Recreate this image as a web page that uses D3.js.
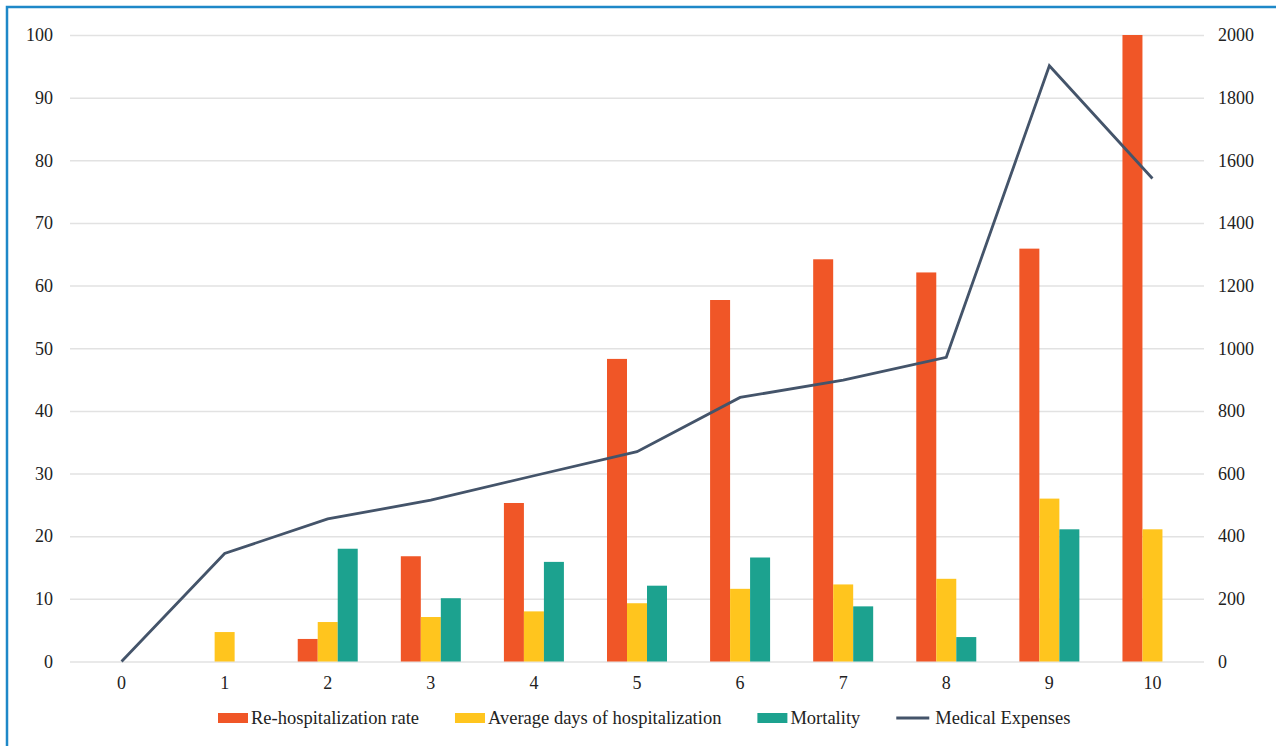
<!DOCTYPE html>
<html>
<head>
<meta charset="utf-8">
<script src="https://cdn.jsdelivr.net/npm/d3@7/dist/d3.min.js"></script>
<style>
  html, body { margin: 0; padding: 0; background: #ffffff; }
  svg { display: block; }
</style>
</head>
<body>
<svg id="chart" width="1276" height="746"></svg>
<script>
// Categories along the x axis
const categories = ["0", "1", "2", "3", "4", "5", "6", "7", "8", "9", "10"];

// Bar series (left axis), null where no bar is drawn
const rehospitalization = [null, null, 3.6, 16.8, 25.3, 48.3, 57.7, 64.2, 62.1, 65.9, 100];
const avgDays           = [null, 4.7, 6.3, 7.1, 8.0, 9.3, 11.6, 12.3, 13.2, 26.0, 21.1];
const mortality         = [null, null, 18.0, 10.1, 15.9, 12.1, 16.6, 8.8, 3.9, 21.1, null];

// Line series (right axis)
const medicalExpenses = [0, 345, 455, 515, 593, 670, 843, 898, 971, 1902, 1542];

// Tick labels
const leftTicks  = [0, 10, 20, 30, 40, 50, 60, 70, 80, 90, 100];
const rightTicks = [0, 200, 400, 600, 800, 1000, 1200, 1400, 1600, 1800, 2000];

const seriesNames = ["Re-hospitalization rate", "Average days of hospitalization", "Mortality"];
const seriesValues = [rehospitalization, avgDays, mortality];
const colors = ["#F05627", "#FFC51E", "#1CA28F"];
const lineColor = "#44546A";
const lineName = "Medical Expenses";

const FONT = "'Liberation Serif', Tinos, 'Times New Roman', 'DejaVu Serif', serif";

const svg = d3.select("#chart");
const W = 1276, H = 746;
const plot = { left: 70, right: 1204, top: 35, bottom: 661.5 };

svg.append("rect").attr("width", W).attr("height", H).attr("fill", "#ffffff");

// frame edges
svg.append("path")
  .attr("d", `M7,${H} L7,7 L${W},7`)
  .attr("fill", "none")
  .attr("stroke", "#1E88C8")
  .attr("stroke-width", 2.5);

const x = d3.scaleBand()
  .domain(categories)
  .range([plot.left, plot.right])
  .paddingInner(0.418)
  .paddingOuter(0.209);

const x1 = d3.scaleBand()
  .domain(seriesNames)
  .range([0, x.bandwidth()]);

const yL = d3.scaleLinear().domain([0, 100]).range([plot.bottom, plot.top]);
const yR = d3.scaleLinear().domain([0, 2000]).range([plot.bottom, plot.top]);

// gridlines
const grid = svg.append("g")
  .attr("transform", `translate(${plot.left},0)`)
  .call(d3.axisLeft(yL).tickValues(leftTicks).tickSize(-(plot.right - plot.left)).tickFormat(""));
grid.select(".domain").remove();
grid.selectAll("line").attr("stroke", "#E2E2E2").attr("stroke-width", 1.5);

function styleAxis(g) {
  g.attr("font-family", FONT).attr("font-size", 18);
  g.select(".domain").remove();
  g.selectAll("text").attr("fill", "#222");
}

// left axis labels
svg.append("g")
  .attr("transform", `translate(${plot.left},0)`)
  .call(d3.axisLeft(yL).tickValues(leftTicks).tickFormat(d3.format("d")).tickSize(0).tickPadding(17))
  .call(styleAxis);

// right axis labels
svg.append("g")
  .attr("transform", `translate(${plot.right},0)`)
  .call(d3.axisRight(yR).tickValues(rightTicks).tickFormat(d3.format("d")).tickSize(0).tickPadding(14))
  .call(styleAxis);

// bottom axis labels
svg.append("g")
  .attr("transform", `translate(0,${plot.bottom})`)
  .call(d3.axisBottom(x).tickSize(0).tickPadding(15))
  .call(styleAxis);

// bars
const barData = [];
categories.forEach((c, i) => {
  seriesNames.forEach((s, j) => {
    const v = seriesValues[j][i];
    if (v !== null) barData.push({ c, s, v, color: colors[j] });
  });
});

svg.append("g").selectAll("rect")
  .data(barData)
  .join("rect")
  .attr("x", d => x(d.c) + x1(d.s))
  .attr("width", x1.bandwidth())
  .attr("y", d => yL(d.v))
  .attr("height", d => yL(0) - yL(d.v))
  .attr("fill", d => d.color);

// line
const line = d3.line()
  .x((d, i) => x(categories[i]) + x.bandwidth() / 2)
  .y(d => yR(d));

svg.append("path")
  .datum(medicalExpenses)
  .attr("d", line)
  .attr("fill", "none")
  .attr("stroke", lineColor)
  .attr("stroke-width", 2.8)
  .attr("stroke-linejoin", "miter");

// legend
const legend = svg.append("g")
  .attr("transform", "translate(0,718)")
  .attr("font-family", FONT)
  .attr("font-size", 18.5);
let lx = 218;
const items = seriesNames.map((s, j) => ({ name: s, color: colors[j], type: "bar" }))
  .concat([{ name: lineName, color: lineColor, type: "line" }]);
items.forEach(it => {
  const g = legend.append("g").attr("transform", `translate(${lx},0)`);
  if (it.type === "bar") {
    g.append("rect").attr("x", 0).attr("y", -5).attr("width", 30).attr("height", 10).attr("fill", it.color);
  } else {
    g.append("line").attr("x1", 0).attr("x2", 33).attr("y1", 0).attr("y2", 0)
      .attr("stroke", it.color).attr("stroke-width", 2.8);
  }
  const tx = it.type === "bar" ? 33 : 39;
  const t = g.append("text")
    .attr("x", tx)
    .attr("y", 5.5)
    .attr("fill", "#222")
    .text(it.name);
  const w = t.node().getComputedTextLength();
  lx += tx + w + 36;
});
</script>
</body>
</html>
